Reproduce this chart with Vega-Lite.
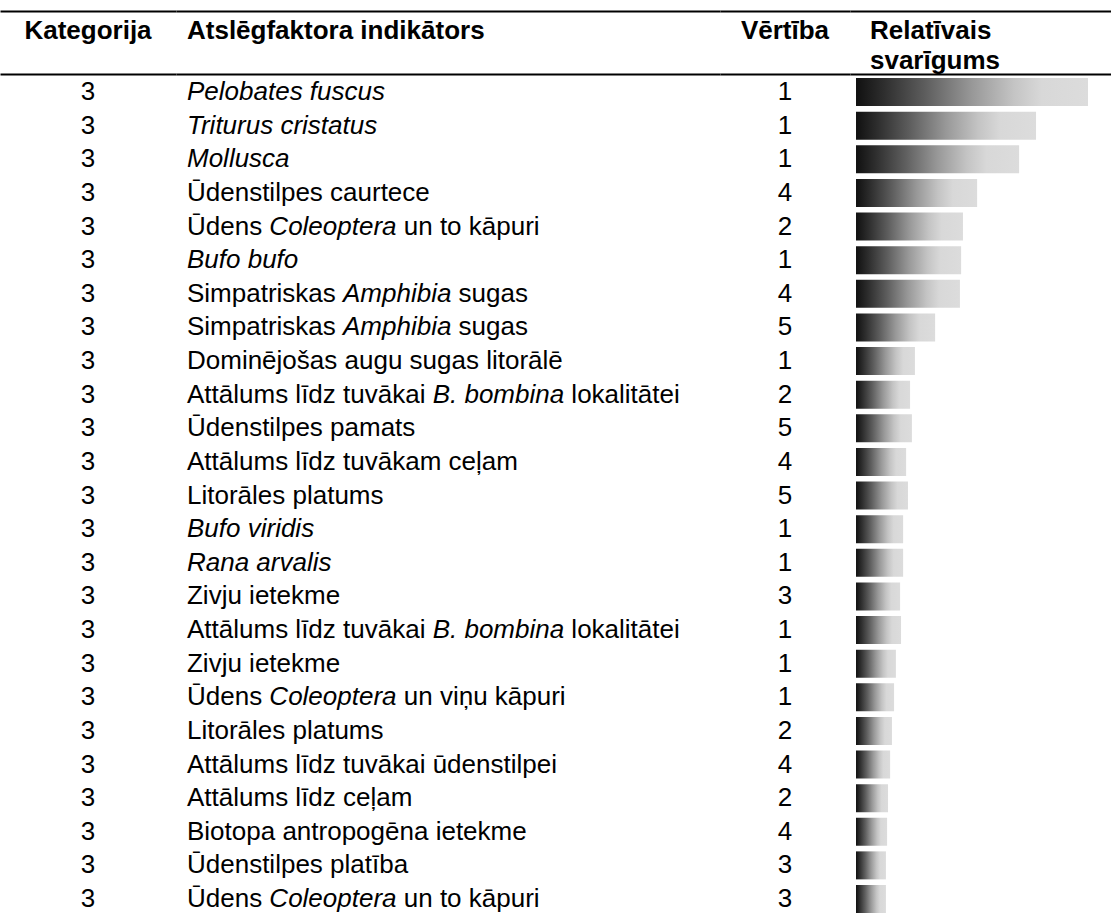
{
  "$schema": "https://vega.github.io/schema/vega-lite/v6.json",
  "background": "white",
  "padding": {"top": 11, "left": 0, "right": 0, "bottom": 0},
  "spacing": -1,
  "config": {
    "view": {"stroke": null},
    "font": "Liberation Sans",
    "concat": {"spacing": 0},
    "axis": {"domainColor": "#000000", "domainWidth": 2, "labels": false, "ticks": false, "grid": false},
    "text": {"font": "Liberation Sans", "fontSize": 26, "color": "#000000"}
  },
  "datasets": {
    "head": [
      {"col": "Kategorija", "line": 1, "t": "Kategorija"},
      {"col": "Atslēgfaktora indikātors", "line": 1, "t": "Atslēgfaktora indikātors"},
      {"col": "Vērtība", "line": 1, "t": "Vērtība"},
      {"col": "Relatīvais svarīgums", "line": 1, "t": "Relatīvais"},
      {"col": "Relatīvais svarīgums", "line": 2, "t": "svarīgums"}
    ],
    "rows": [
      {"row": 1, "kat": 3, "pre": "", "it": "Pelobates fuscus", "post": "", "vert": 1, "sv": 100},
      {"row": 2, "kat": 3, "pre": "", "it": "Triturus cristatus", "post": "", "vert": 1, "sv": 77.6},
      {"row": 3, "kat": 3, "pre": "", "it": "Mollusca", "post": "", "vert": 1, "sv": 70.3},
      {"row": 4, "kat": 3, "pre": "Ūdenstilpes caurtece", "it": "", "post": "", "vert": 4, "sv": 52.2},
      {"row": 5, "kat": 3, "pre": "Ūdens", "it": "Coleoptera", "post": "un to kāpuri", "vert": 2, "sv": 46.1},
      {"row": 6, "kat": 3, "pre": "", "it": "Bufo bufo", "post": "", "vert": 1, "sv": 45.3},
      {"row": 7, "kat": 3, "pre": "Simpatriskas", "it": "Amphibia", "post": "sugas", "vert": 4, "sv": 44.8},
      {"row": 8, "kat": 3, "pre": "Simpatriskas", "it": "Amphibia", "post": "sugas", "vert": 5, "sv": 34.1},
      {"row": 9, "kat": 3, "pre": "Dominējošas augu sugas litorālē", "it": "", "post": "", "vert": 1, "sv": 25.4},
      {"row": 10, "kat": 3, "pre": "Attālums līdz tuvākai", "it": "B. bombina", "post": "lokalitātei", "vert": 2, "sv": 23.3},
      {"row": 11, "kat": 3, "pre": "Ūdenstilpes pamats", "it": "", "post": "", "vert": 5, "sv": 24.1},
      {"row": 12, "kat": 3, "pre": "Attālums līdz tuvākam ceļam", "it": "", "post": "", "vert": 4, "sv": 21.6},
      {"row": 13, "kat": 3, "pre": "Litorāles platums", "it": "", "post": "", "vert": 5, "sv": 22.4},
      {"row": 14, "kat": 3, "pre": "", "it": "Bufo viridis", "post": "", "vert": 1, "sv": 20.3},
      {"row": 15, "kat": 3, "pre": "", "it": "Rana arvalis", "post": "", "vert": 1, "sv": 20.3},
      {"row": 16, "kat": 3, "pre": "Zivju ietekme", "it": "", "post": "", "vert": 3, "sv": 19.0},
      {"row": 17, "kat": 3, "pre": "Attālums līdz tuvākai", "it": "B. bombina", "post": "lokalitātei", "vert": 1, "sv": 19.4},
      {"row": 18, "kat": 3, "pre": "Zivju ietekme", "it": "", "post": "", "vert": 1, "sv": 17.2},
      {"row": 19, "kat": 3, "pre": "Ūdens", "it": "Coleoptera", "post": "un viņu kāpuri", "vert": 1, "sv": 16.4},
      {"row": 20, "kat": 3, "pre": "Litorāles platums", "it": "", "post": "", "vert": 2, "sv": 15.5},
      {"row": 21, "kat": 3, "pre": "Attālums līdz tuvākai ūdenstilpei", "it": "", "post": "", "vert": 4, "sv": 14.7},
      {"row": 22, "kat": 3, "pre": "Attālums līdz ceļam", "it": "", "post": "", "vert": 2, "sv": 13.8},
      {"row": 23, "kat": 3, "pre": "Biotopa antropogēna ietekme", "it": "", "post": "", "vert": 4, "sv": 13.4},
      {"row": 24, "kat": 3, "pre": "Ūdenstilpes platība", "it": "", "post": "", "vert": 3, "sv": 12.9},
      {"row": 25, "kat": 3, "pre": "Ūdens", "it": "Coleoptera", "post": "un to kāpuri", "vert": 3, "sv": 12.9}
    ]
  },
  "vconcat": [
    {
      "spacing": 0,
      "bounds": "flush",
      "hconcat": [
        {
          "width": 176, "height": 63,
          "data": {"name": "head"},
          "transform": [{"filter": "datum.col == 'Kategorija'"}],
          "mark": {"type": "text", "fontWeight": "bold", "align": "center", "baseline": "middle"},
          "encoding": {
            "x": {"field": "col", "type": "nominal", "scale": {"type": "point", "padding": 0, "align": 0.5}, "axis": {"orient": "top", "title": null}},
            "y": {"field": "line", "type": "ordinal", "scale": {"type": "point", "padding": 0, "domain": [1, 2], "range": [19.5, 49.5]}, "axis": null},
            "text": {"field": "t"}
          }
        },
        {
          "width": 544, "height": 63,
          "data": {"name": "head"},
          "transform": [{"filter": "datum.col == 'Atslēgfaktora indikātors'"}],
          "mark": {"type": "text", "fontWeight": "bold", "align": "left", "baseline": "middle"},
          "encoding": {
            "x": {"field": "col", "type": "nominal", "scale": {"type": "point", "padding": 0, "align": 0.0202}, "axis": {"orient": "top", "title": null}},
            "y": {"field": "line", "type": "ordinal", "scale": {"type": "point", "padding": 0, "domain": [1, 2], "range": [19.5, 49.5]}, "axis": null},
            "text": {"field": "t"}
          }
        },
        {
          "width": 130, "height": 63,
          "data": {"name": "head"},
          "transform": [{"filter": "datum.col == 'Vērtība'"}],
          "mark": {"type": "text", "fontWeight": "bold", "align": "center", "baseline": "middle"},
          "encoding": {
            "x": {"field": "col", "type": "nominal", "scale": {"type": "point", "padding": 0, "align": 0.5}, "axis": {"orient": "top", "title": null}},
            "y": {"field": "line", "type": "ordinal", "scale": {"type": "point", "padding": 0, "domain": [1, 2], "range": [19.5, 49.5]}, "axis": null},
            "text": {"field": "t"}
          }
        },
        {
          "width": 261, "height": 63,
          "data": {"name": "head"},
          "transform": [{"filter": "datum.col == 'Relatīvais svarīgums'"}],
          "mark": {"type": "text", "fontWeight": "bold", "align": "left", "baseline": "middle"},
          "encoding": {
            "x": {"field": "col", "type": "nominal", "scale": {"type": "point", "padding": 0, "align": 0.0766}, "axis": {"orient": "top", "title": null}},
            "y": {"field": "line", "type": "ordinal", "scale": {"type": "point", "padding": 0, "domain": [1, 2], "range": [19.5, 49.5]}, "axis": null},
            "text": {"field": "t"}
          }
        }
      ]
    },
    {
      "spacing": 0,
      "bounds": "flush",
      "hconcat": [
        {
          "width": 176, "height": 839,
          "data": {"name": "rows"},
          "mark": {"type": "text", "align": "center", "baseline": "middle"},
          "encoding": {
            "x": {"field": "kat", "type": "nominal", "scale": {"type": "point", "padding": 0, "align": 0.5}, "axis": {"orient": "top", "title": null}},
            "y": {"field": "row", "type": "ordinal", "scale": {"type": "band", "paddingInner": 0.1673, "paddingOuter": 0.0595, "align": 1}, "axis": null},
            "text": {"field": "kat"}
          }
        },
        {
          "width": 544, "height": 839,
          "data": {"name": "rows"},
          "encoding": {
            "x": {"datum": "Atslēgfaktora indikātors", "type": "nominal", "scale": {"type": "point", "padding": 0, "align": 0.0202}, "axis": {"orient": "top", "title": null}},
            "y": {"field": "row", "type": "ordinal", "scale": {"type": "band", "paddingInner": 0.1673, "paddingOuter": 0.0595, "align": 1}, "axis": null}
          },
          "layer": [
            {
              "mark": {"type": "text", "align": "left", "baseline": "middle"},
              "encoding": {"text": {"field": "pre"}}
            },
            {
              "mark": {"type": "text", "align": "left", "baseline": "middle", "fontStyle": "italic",
                "dx": {"expr": "26 * (datum.pre == 'Ūdens' ? 3.168 : datum.pre == 'Simpatriskas' ? 6.001 : datum.pre == 'Attālums līdz tuvākai' ? 9.448 : 0)"}},
              "encoding": {"text": {"field": "it"}}
            },
            {
              "mark": {"type": "text", "align": "left", "baseline": "middle",
                "dx": {"expr": "26 * (datum.pre == 'Ūdens' ? 8.337 : datum.pre == 'Simpatriskas' ? 10.447 : datum.pre == 'Attālums līdz tuvākai' ? 14.784 : 0)"}},
              "encoding": {"text": {"field": "post"}}
            }
          ]
        },
        {
          "width": 130, "height": 839,
          "data": {"name": "rows"},
          "mark": {"type": "text", "align": "center", "baseline": "middle"},
          "encoding": {
            "x": {"datum": "Vērtība", "type": "nominal", "scale": {"type": "point", "padding": 0, "align": 0.5}, "axis": {"orient": "top", "title": null}},
            "y": {"field": "row", "type": "ordinal", "scale": {"type": "band", "paddingInner": 0.1673, "paddingOuter": 0.0595, "align": 1}, "axis": null},
            "text": {"field": "vert"}
          }
        },
        {
          "width": 261, "height": 839,
          "data": {"name": "rows"},
          "mark": {
            "type": "bar",
            "color": {
              "gradient": "linear",
              "x1": 0, "y1": 0, "x2": 1, "y2": 0,
              "stops": [
                {"offset": 0, "color": "#101010"},
                {"offset": 0.12, "color": "#2e2e2e"},
                {"offset": 0.3, "color": "#5e5e5e"},
                {"offset": 0.5, "color": "#989898"},
                {"offset": 0.68, "color": "#c4c4c4"},
                {"offset": 0.8, "color": "#d8d8d8"},
                {"offset": 1, "color": "#dcdcdc"}
              ]
            }
          },
          "encoding": {
            "x": {"field": "sv", "type": "quantitative", "scale": {"domain": [-2.59, 109.91], "nice": false, "zero": false}, "axis": {"orient": "top", "title": null}},
            "y": {"field": "row", "type": "ordinal", "scale": {"type": "band", "paddingInner": 0.1673, "paddingOuter": 0.0595, "align": 1}, "axis": null}
          }
        }
      ]
    }
  ]
}
